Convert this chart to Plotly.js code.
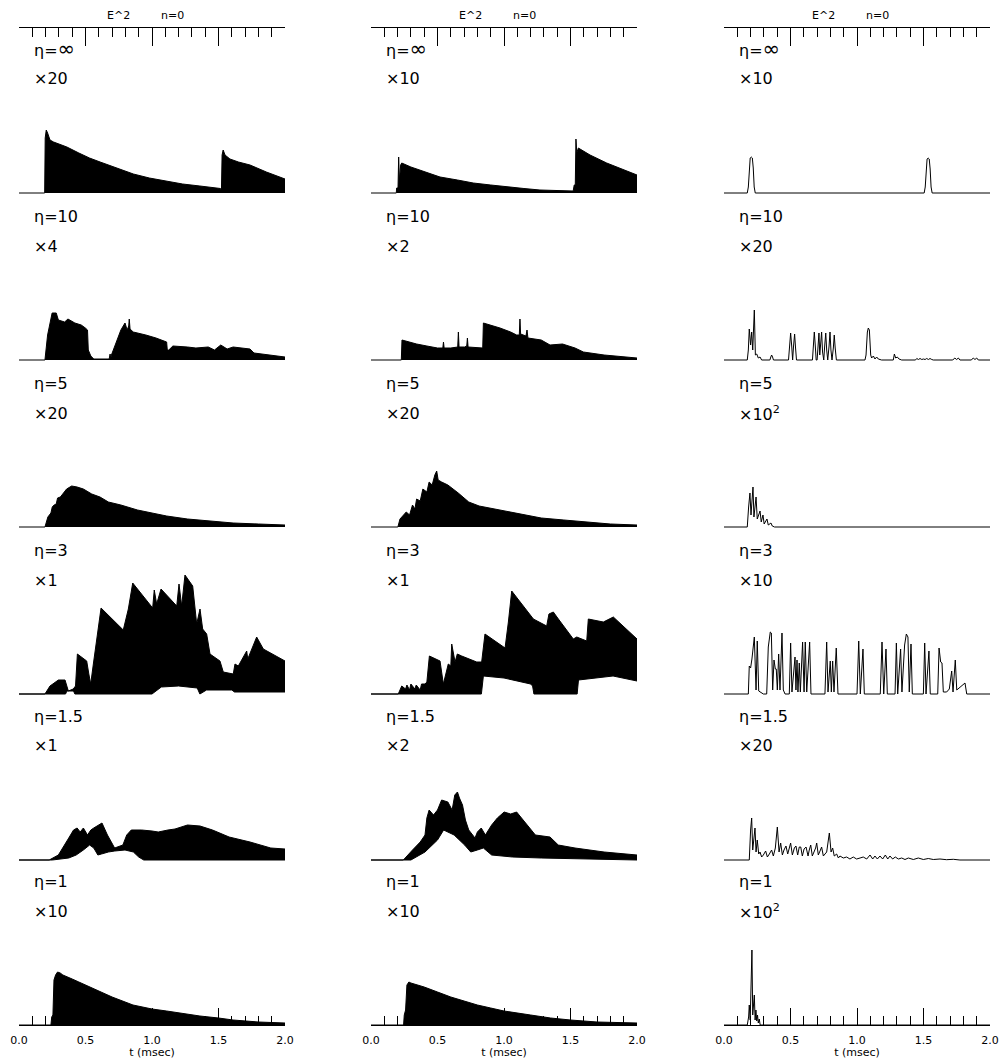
<!DOCTYPE html>
<html><head><meta charset="utf-8">
<script src="https://cdn.plot.ly/plotly-3.0.1.min.js"></script>
<style>html,body{margin:0;padding:0;background:#fff;}#chart{width:999px;height:1059px;}</style>
</head><body><div id="chart"></div>
<script>
// ---------- labels ----------
const etaLabels = ['η=∞', 'η=10', 'η=5', 'η=3', 'η=1.5', 'η=1'];
const scaleLeft = ['×20', '×4', '×20', '×1', '×1', '×10'];
const scaleMiddle = ['×10', '×2', '×20', '×1', '×2', '×10'];
const scaleRight = ['×10', '×20', '×10<sup>2</sup>', '×10', '×20', '×10<sup>2</sup>'];
const topTitleA = 'E^2';
const topTitleB = 'n=0';
const xTitle = 't (msec)';
const tickVals = [0, 0.5, 1.0, 1.5, 2.0];
const tickText = ['0.0', '0.5', '1.0', '1.5', '2.0'];

// ---------- data (t in msec, envelope heights in arbitrary units) ----------
// eta = infinity
const L1_t = [0, 0.193, 0.197, 0.205, 0.215, 0.233, 0.26, 0.3, 0.36, 0.45, 0.53, 0.61, 0.73, 0.86, 0.98, 1.11, 1.23, 1.36, 1.45, 1.515, 1.522, 1.527, 1.535, 1.549, 1.586, 1.65, 1.737, 1.86, 2.0];
const L1_hi = [0, 0, 55, 63, 60, 53, 51, 49, 46, 40, 35, 31, 25, 19, 15, 12, 9, 7, 5.5, 4.5, 2, 38, 43, 38, 34, 31, 28, 21, 14];
const M1_t = [0, 0.19, 0.193, 0.203, 0.208, 0.214, 0.223, 0.231, 0.3, 0.394, 0.519, 0.65, 0.769, 0.9, 1.02, 1.15, 1.27, 1.4, 1.52, 1.528, 1.536, 1.541, 1.547, 1.559, 1.6, 1.647, 1.772, 1.897, 2.0];
const M1_hi = [0, 0, 5, 5, 36, 12, 28, 30, 26, 22, 16, 13, 10, 8, 6, 4.5, 3, 2.5, 2, 8, 8, 54, 40, 45, 42, 38, 30, 23, 18];
const R1_t = [0, 0.175, 0.183, 0.19, 0.197, 0.205, 0.213, 0.22, 0.227, 0.235, 1.505, 1.513, 1.52, 1.527, 1.535, 1.543, 1.55, 1.557, 1.565, 2.0];
const R1_y = [0, 0, 6, 25, 35, 36, 35, 25, 6, 0, 0, 6, 24, 34, 35, 34, 24, 6, 0, 0];

// eta = 10
const L2_t = [0, 0.195, 0.215, 0.249, 0.28, 0.296, 0.343, 0.368, 0.42, 0.468, 0.499, 0.515, 0.521, 0.54, 0.562, 0.678, 0.685, 0.69, 0.695, 0.719, 0.75, 0.766, 0.797, 0.813, 0.825, 0.829, 0.835, 0.844, 0.859, 0.954, 1.03, 1.11, 1.115, 1.126, 1.157, 1.267, 1.33, 1.423, 1.47, 1.517, 1.565, 1.61, 1.737, 1.767, 1.893, 2.0];
const L2_hi = [0, 0, 25, 47, 47, 40, 38, 41, 37, 35, 32, 30, 10, 4, 1, 1, 6, 1, 5, 13, 24, 30, 37, 30, 34, 41, 31, 30, 28, 25, 22, 18, 10, 10, 14, 13, 12, 13, 10, 15, 11, 13, 11, 7, 5, 3];
const M2_t = [0, 0.228, 0.233, 0.26, 0.281, 0.343, 0.42, 0.5, 0.54, 0.545, 0.55, 0.6, 0.652, 0.657, 0.662, 0.704, 0.72, 0.725, 0.73, 0.84, 0.845, 0.9, 0.97, 1.05, 1.095, 1.115, 1.12, 1.125, 1.165, 1.173, 1.18, 1.28, 1.346, 1.44, 1.534, 1.597, 1.753, 2.0];
const M2_hi = [0, 0, 20, 19, 18, 16, 14, 12, 12, 18, 12, 12, 13, 28, 13, 13, 14, 22, 13, 12, 37, 35, 32, 28, 25, 25, 41, 26, 24, 30, 22, 20, 15, 16, 12, 8, 5, 2];
const R2_t = [0, 0.175, 0.183, 0.19, 0.2, 0.208, 0.216, 0.222, 0.228, 0.236, 0.246, 0.258, 0.271, 0.283, 0.345, 0.352, 0.358, 0.365, 0.372, 0.485, 0.493, 0.501, 0.509, 0.516, 0.523, 0.531, 0.538, 0.545, 0.665, 0.672, 0.679, 0.686, 0.693, 0.70, 0.707, 0.714, 0.72, 0.727, 0.734, 0.741, 0.75, 0.757, 0.765, 0.772, 0.78, 0.79, 0.797, 0.804, 0.812, 0.822, 0.829, 0.836, 0.845, 1.06, 1.068, 1.078, 1.085, 1.093, 1.103, 1.11, 1.116, 1.123, 1.135, 1.148, 1.16, 1.185, 1.273, 1.281, 1.291, 1.303, 1.316, 1.336, 1.44, 1.449, 1.462, 1.474, 1.487, 1.499, 1.512, 1.524, 1.537, 1.549, 1.562, 1.574, 1.72, 1.735, 1.749, 1.762, 1.774, 1.86, 1.874, 1.887, 1.9, 1.912, 2.0];
const R2_y = [0, 0, 10, 31, 15, 28, 10, 30, 50, 5, 6, 2, 3, 0, 0, 3, 5, 3, 0, 0, 14, 27, 14, 0, 14, 26, 12, 0, 0, 15, 28, 15, 0, 0, 14, 27, 5, 15, 28, 8, 0, 14, 27, 10, 0, 14, 28, 10, 0, 12, 25, 12, 0, 0, 5, 28, 32, 30, 5, 2, 3, 4, 1, 3, 1, 0, 0, 6, 2, 3, 1, 0, 0, 1.5, 0.5, 1.5, 0.5, 1, 0.5, 1.5, 0.5, 1.5, 0.5, 0, 0, 2, 0.5, 2, 0, 0, 2, 0.5, 2, 0, 0];

// eta = 5
const L3_t = [0, 0.195, 0.217, 0.24, 0.25, 0.264, 0.28, 0.29, 0.311, 0.358, 0.396, 0.437, 0.484, 0.547, 0.609, 0.672, 0.766, 0.891, 1.0, 1.11, 1.267, 1.423, 1.61, 1.8, 2.0];
const L3_hi = [0, 0, 10, 14, 20, 22, 23, 29, 30, 38, 41, 40, 38, 33, 30, 25, 22, 17, 14, 11, 8, 6, 4, 3, 2];
const M3_t = [0, 0.202, 0.218, 0.265, 0.29, 0.312, 0.33, 0.343, 0.37, 0.39, 0.42, 0.437, 0.46, 0.48, 0.494, 0.505, 0.531, 0.578, 0.656, 0.735, 0.813, 0.97, 1.126, 1.28, 1.45, 1.6, 1.8, 2.0];
const M3_hi = [0, 0, 8, 15, 12, 22, 18, 28, 26, 38, 35, 45, 42, 52, 56, 47, 45, 42, 34, 25, 21, 17, 13, 9, 7, 5, 3, 2];
const R3_t = [0, 0.175, 0.185, 0.195, 0.203, 0.21, 0.218, 0.225, 0.232, 0.241, 0.25, 0.26, 0.271, 0.28, 0.293, 0.302, 0.313, 0.323, 0.333, 0.343, 0.353, 0.363, 0.38, 2.0];
const R3_y = [0, 0, 20, 34, 12, 28, 40, 10, 22, 30, 8, 12, 16, 5, 12, 3, 6, 8, 2, 3, 4, 1, 0, 0];

// eta = 3
const L4_t = [0, 0.195, 0.233, 0.296, 0.346, 0.371, 0.408, 0.425, 0.439, 0.509, 0.525, 0.539, 0.559, 0.59, 0.617, 0.784, 0.822, 0.855, 1.005, 1.017, 1.035, 1.068, 1.186, 1.203, 1.223, 1.248, 1.306, 1.336, 1.361, 1.381, 1.411, 1.436, 1.511, 1.536, 1.611, 1.624, 1.649, 1.712, 1.72, 1.787, 1.837, 2.0];
const L4_hi = [0, 0, 8, 14, 14, 3, 5, 8, 40, 33, 20, 10, 30, 60, 86, 64, 85, 111, 86, 104, 90, 105, 88, 110, 88, 119, 108, 70, 85, 65, 60, 40, 33, 22, 20, 30, 28, 43, 35, 57, 45, 33];
const L4_loT = [0, 0.35, 0.36, 0.41, 0.42, 1.0, 1.07, 1.2, 1.34, 1.36, 1.41, 1.6, 1.62, 2.0];
const L4_lo = [0, 0, 3, 3, 0, 0, 7, 8, 6, 0, 4, 4, 2, 2];
const M4_t = [0, 0.205, 0.231, 0.26, 0.27, 0.29, 0.3, 0.33, 0.34, 0.37, 0.38, 0.406, 0.42, 0.439, 0.519, 0.544, 0.581, 0.6, 0.607, 0.632, 0.649, 0.682, 0.795, 0.832, 0.857, 1.008, 1.033, 1.058, 1.221, 1.321, 1.338, 1.371, 1.409, 1.521, 1.547, 1.622, 1.634, 1.747, 1.822, 2.0];
const M4_hi = [0, 0, 8, 5, 9, 4, 10, 5, 9, 4, 10, 10, 12, 38, 33, 10, 30, 28, 50, 32, 40, 38, 32, 32, 60, 46, 72, 103, 75, 68, 80, 82, 75, 55, 57, 53, 75, 72, 77, 55];
const M4_loT = [0, 0.83, 0.845, 1.0, 1.2, 1.215, 1.225, 1.55, 1.56, 1.7, 1.82, 2.0];
const M4_lo = [0, 0, 18, 16, 10, 8, 0, 0, 14, 16, 18, 13];
const R4_t = [0, 0.183, 0.19, 0.2, 0.21, 0.228, 0.241, 0.25, 0.261, 0.276, 0.296, 0.321, 0.333, 0.348, 0.356, 0.366, 0.376, 0.386, 0.393, 0.401, 0.411, 0.421, 0.436, 0.446, 0.459, 0.491, 0.501, 0.511, 0.534, 0.541, 0.549, 0.556, 0.566, 0.574, 0.591, 0.602, 0.611, 0.622, 0.644, 0.654, 0.759, 0.772, 0.782, 0.799, 0.807, 0.817, 0.827, 0.844, 0.857, 1.0, 1.013, 1.025, 1.045, 1.055, 1.175, 1.188, 1.201, 1.218, 1.228, 1.286, 1.296, 1.306, 1.328, 1.338, 1.358, 1.371, 1.383, 1.393, 1.406, 1.416, 1.499, 1.509, 1.519, 1.541, 1.551, 1.607, 1.617, 1.629, 1.639, 1.649, 1.674, 1.694, 1.712, 1.722, 1.739, 1.75, 1.769, 1.787, 1.812, 1.825, 2.0];
const R4_y = [0, 0, 28, 26, 35, 57, 4, 53, 3, 2, 0, 0, 47, 62, 61, 4, 34, 25, 25, 4, 40, 4, 61, 4, 0, 0, 51, 2, 37, 4, 34, 2, 31, 2, 52, 2, 52, 2, 52, 0, 0, 52, 2, 33, 2, 33, 2, 46, 0, 0, 53, 0, 45, 0, 0, 52, 0, 45, 0, 0, 51, 0, 45, 2, 49, 60, 57, 2, 50, 0, 0, 51, 0, 43, 0, 0, 46, 32, 31, 2, 2, 5, 23, 2, 34, 4, 6, 8, 11, 0, 0];

// eta = 1.5
const L5_t = [0, 0.227, 0.296, 0.34, 0.374, 0.41, 0.437, 0.46, 0.484, 0.515, 0.54, 0.562, 0.6, 0.624, 0.665, 0.719, 0.781, 0.81, 0.844, 0.922, 1.0, 1.047, 1.12, 1.173, 1.267, 1.361, 1.455, 1.58, 1.737, 1.893, 2.0];
const L5_hi = [0, 0, 5, 14, 22, 30, 32, 28, 32, 25, 30, 32, 35, 37, 25, 12, 15, 25, 30, 30, 29, 28, 30, 31, 35, 34, 30, 23, 18, 12, 11];
const L5_loT = [0, 0.25, 0.374, 0.43, 0.484, 0.531, 0.562, 0.593, 0.62, 0.672, 0.72, 0.797, 0.86, 0.9, 0.938, 2.0];
const L5_lo = [0, 0, 2, 5, 10, 15, 12, 5, 6, 8, 9, 10, 8, 3, 0, 0];
const M5_t = [0, 0.243, 0.312, 0.37, 0.406, 0.42, 0.437, 0.47, 0.5, 0.515, 0.531, 0.578, 0.61, 0.63, 0.65, 0.665, 0.688, 0.71, 0.735, 0.782, 0.80, 0.829, 0.86, 0.907, 0.95, 1.001, 1.05, 1.095, 1.173, 1.236, 1.346, 1.408, 1.534, 1.753, 2.0];
const M5_hi = [0, 0, 10, 18, 25, 42, 50, 45, 50, 55, 60, 58, 50, 65, 68, 62, 55, 40, 30, 22, 28, 32, 25, 35, 42, 48, 46, 48, 35, 25, 23, 15, 12, 8, 5];
const M5_loT = [0, 0.3, 0.406, 0.5, 0.546, 0.625, 0.704, 0.75, 0.8, 0.845, 0.907, 1.064, 1.28, 1.6, 2.0];
const M5_lo = [0, 0, 8, 20, 30, 25, 15, 8, 10, 12, 5, 3, 2, 1, 0];
const R5_t = [0, 0.19, 0.2, 0.208, 0.216, 0.226, 0.233, 0.241, 0.25, 0.261, 0.271, 0.283, 0.296, 0.313, 0.326, 0.341, 0.358, 0.371, 0.386, 0.401, 0.414, 0.426, 0.439, 0.451, 0.466, 0.479, 0.491, 0.501, 0.514, 0.529, 0.541, 0.554, 0.566, 0.577, 0.589, 0.602, 0.617, 0.632, 0.641, 0.652, 0.664, 0.677, 0.689, 0.697, 0.709, 0.722, 0.734, 0.747, 0.759, 0.772, 0.792, 0.805, 0.817, 0.829, 0.847, 0.86, 0.872, 0.897, 0.922, 0.947, 0.972, 0.997, 1.023, 1.047, 1.073, 1.098, 1.118, 1.135, 1.153, 1.173, 1.193, 1.213, 1.231, 1.248, 1.268, 1.288, 1.311, 1.336, 1.361, 1.386, 1.424, 1.461, 1.499, 1.536, 1.574, 1.624, 1.674, 1.724, 1.774, 2.0];
const R5_y = [0, 0, 30, 42, 10, 28, 32, 8, 20, 6, 8, 3, 5, 9, 3, 6, 10, 4, 12, 33, 8, 17, 5, 10, 14, 6, 12, 17, 5, 12, 14, 5, 13, 13, 4, 11, 13, 4, 10, 15, 4, 8, 12, 17, 5, 9, 13, 4, 6, 8, 27, 8, 12, 4, 6, 2, 4, 2, 3, 1, 3, 1, 2, 3, 1, 5, 1, 4, 1, 4, 1, 5, 1, 4, 1, 3, 1, 2, 0.5, 2, 0.5, 2, 0.5, 1.5, 0.5, 1, 0.3, 0.7, 0, 0];

// eta = 1
const L6_t = [0, 0.24, 0.246, 0.255, 0.263, 0.275, 0.29, 0.31, 0.33, 0.36, 0.4, 0.45, 0.5, 0.584, 0.7, 0.857, 1.0, 1.11, 1.25, 1.36, 1.5, 1.61, 1.8, 2.0];
const L6_hi = [0, 0, 8, 10, 45, 50, 53, 52, 50, 48, 46, 43, 40, 35, 28, 20, 16, 14, 11, 9, 7, 5, 3, 2];
const M6_t = [0, 0.245, 0.25, 0.26, 0.27, 0.285, 0.3, 0.35, 0.4, 0.5, 0.6, 0.7, 0.8, 0.9, 1.0, 1.2, 1.35, 1.5, 1.7, 2.0];
const M6_hi = [0, 0, 10, 15, 40, 43, 42, 40, 38, 33, 28, 24, 20, 17, 14, 10, 7, 5, 3, 2];
const R6_t = [0, 0.175, 0.185, 0.19, 0.197, 0.205, 0.21, 0.216, 0.222, 0.228, 0.234, 0.24, 0.246, 0.252, 0.258, 0.265, 0.272, 2.0];
const R6_y = [0, 0, 8, 20, 5, 40, 75, 10, 25, 30, 5, 15, 4, 10, 2, 6, 0, 0];

// ---------- layout geometry ----------
const W = 999, H = 1059;
const FONT = 'DejaVu Sans, Liberation Sans, sans-serif';
const colX0 = [19, 371, 724];
const colW = 266;
const rowBase = [193, 360, 527, 694, 860, 1025];
const scaleCols = [scaleLeft, scaleMiddle, scaleRight];

const panels = [
  {row: 0, col: 0, t: L1_t, hi: L1_hi}, {row: 0, col: 1, t: M1_t, hi: M1_hi}, {row: 0, col: 2, t: R1_t, y: R1_y},
  {row: 1, col: 0, t: L2_t, hi: L2_hi}, {row: 1, col: 1, t: M2_t, hi: M2_hi}, {row: 1, col: 2, t: R2_t, y: R2_y},
  {row: 2, col: 0, t: L3_t, hi: L3_hi}, {row: 2, col: 1, t: M3_t, hi: M3_hi}, {row: 2, col: 2, t: R3_t, y: R3_y},
  {row: 3, col: 0, t: L4_t, hi: L4_hi, loT: L4_loT, lo: L4_lo}, {row: 3, col: 1, t: M4_t, hi: M4_hi, loT: M4_loT, lo: M4_lo}, {row: 3, col: 2, t: R4_t, y: R4_y},
  {row: 4, col: 0, t: L5_t, hi: L5_hi, loT: L5_loT, lo: L5_lo}, {row: 4, col: 1, t: M5_t, hi: M5_hi, loT: M5_loT, lo: M5_lo}, {row: 4, col: 2, t: R5_t, y: R5_y},
  {row: 5, col: 0, t: L6_t, hi: L6_hi}, {row: 5, col: 1, t: M6_t, hi: M6_hi}, {row: 5, col: 2, t: R6_t, y: R6_y}
];

const data = [];
const layout = {
  width: W, height: H,
  margin: {l: 0, r: 0, t: 0, b: 0, pad: 0},
  paper_bgcolor: 'white', plot_bgcolor: 'rgba(0,0,0,0)',
  showlegend: false,
  font: {family: FONT, color: 'black'},
  annotations: []
};
function suf(k) { return k === 1 ? '' : String(k); }
const blk = {color: 'black', width: 1};

let k = 0;
panels.forEach(p => {
  k++;
  const s = suf(k);
  const B = rowBase[p.row], x0 = colX0[p.col];
  layout['xaxis' + s] = {domain: [x0 / W, (x0 + colW) / W], range: [0, 2], visible: false, anchor: 'y' + s, fixedrange: true};
  layout['yaxis' + s] = {domain: [(H - B - 2) / H, (H - B + 138) / H], range: [-2, 138], visible: false, anchor: 'x' + s, fixedrange: true};
  const ax = {xaxis: 'x' + s, yaxis: 'y' + s, hoverinfo: 'skip', showlegend: false};
  if (p.y) {
    data.push(Object.assign({x: p.t, y: p.y, mode: 'lines', line: blk}, ax));
  } else if (p.lo) {
    data.push(Object.assign({x: p.loT, y: p.lo, mode: 'lines', line: blk}, ax));
    data.push(Object.assign({x: p.t, y: p.hi, mode: 'lines', line: blk, fill: 'tonexty', fillcolor: 'black'}, ax));
  } else {
    data.push(Object.assign({x: p.t, y: p.hi, mode: 'lines', line: blk, fill: 'tozeroy', fillcolor: 'black'}, ax));
  }
});

function styleEta(txt) {
  return txt.replace('∞', '<span style="font-size:21px">∞</span>');
}

// helper axes: top frame axes and bottom time axes
colX0.forEach((x0, c) => {
  // top
  k++;
  let s = suf(k);
  layout['xaxis' + s] = {
    domain: [x0 / W, (x0 + colW) / W], range: [0, 2], anchor: 'y' + s, side: 'top',
    showline: true, linecolor: 'black', linewidth: 1, showgrid: false, zeroline: false,
    ticks: 'inside', ticklen: 18, tickwidth: 1, tickcolor: 'black',
    tickmode: 'array', tickvals: tickVals, showticklabels: false,
    minor: {ticks: 'inside', ticklen: 9, tickwidth: 1, tickcolor: 'black', dtick: 0.1, tick0: 0, showgrid: false},
    fixedrange: true
  };
  layout['yaxis' + s] = {domain: [(H - 46) / H, (H - 28) / H], range: [0, 1], visible: false, anchor: 'x' + s, fixedrange: true};
  data.push({x: [0, 2], y: [0, 0], mode: 'none', xaxis: 'x' + s, yaxis: 'y' + s, hoverinfo: 'skip', showlegend: false});
  // bottom
  k++;
  s = suf(k);
  layout['xaxis' + s] = {
    domain: [x0 / W, (x0 + colW) / W], range: [0, 2], anchor: 'y' + s, side: 'bottom',
    showline: true, linecolor: 'black', linewidth: 1, showgrid: false, zeroline: false,
    ticks: 'inside', ticklen: 17, tickwidth: 1, tickcolor: 'black',
    tickmode: 'array', tickvals: tickVals, ticktext: tickText, showticklabels: true,
    tickfont: {family: FONT, size: 11, color: 'black'}, ticklabelstandoff: 5,
    minor: {ticks: 'inside', ticklen: 9, tickwidth: 1, tickcolor: 'black', dtick: 0.1, tick0: 0, showgrid: false},
    title: {text: xTitle, font: {family: FONT, size: 11, color: 'black'}, standoff: 1},
    fixedrange: true
  };
  layout['yaxis' + s] = {domain: [(H - 1025) / H, (H - 1005) / H], range: [0, 1], visible: false, anchor: 'x' + s, fixedrange: true};
  data.push({x: [0, 2], y: [0, 0], mode: 'none', xaxis: 'x' + s, yaxis: 'y' + s, hoverinfo: 'skip', showlegend: false});

  // top title pieces
  layout.annotations.push({xref: 'paper', yref: 'paper', x: (x0 + 99) / W, y: (H - 15) / H, text: topTitleA, showarrow: false, xanchor: 'center', yanchor: 'middle', font: {family: FONT, size: 11, color: 'black'}});
  layout.annotations.push({xref: 'paper', yref: 'paper', x: (x0 + 153) / W, y: (H - 15) / H, text: topTitleB, showarrow: false, xanchor: 'center', yanchor: 'middle', font: {family: FONT, size: 11, color: 'black'}});

  // row labels
  rowBase.forEach((B, r) => {
    layout.annotations.push({xref: 'paper', yref: 'paper', x: (x0 + 13) / W, y: (H - (B - 144)) / H, text: styleEta(etaLabels[r]), showarrow: false, xanchor: 'left', yanchor: 'middle', font: {family: FONT, size: 16, color: 'black'}});
    layout.annotations.push({xref: 'paper', yref: 'paper', x: (x0 + 13) / W, y: (H - (B - 114)) / H, text: scaleCols[c][r], showarrow: false, xanchor: 'left', yanchor: 'middle', font: {family: FONT, size: 16, color: 'black'}});
  });
});

Plotly.newPlot('chart', data, layout, {staticPlot: true, displayModeBar: false});
</script>
</body></html>
